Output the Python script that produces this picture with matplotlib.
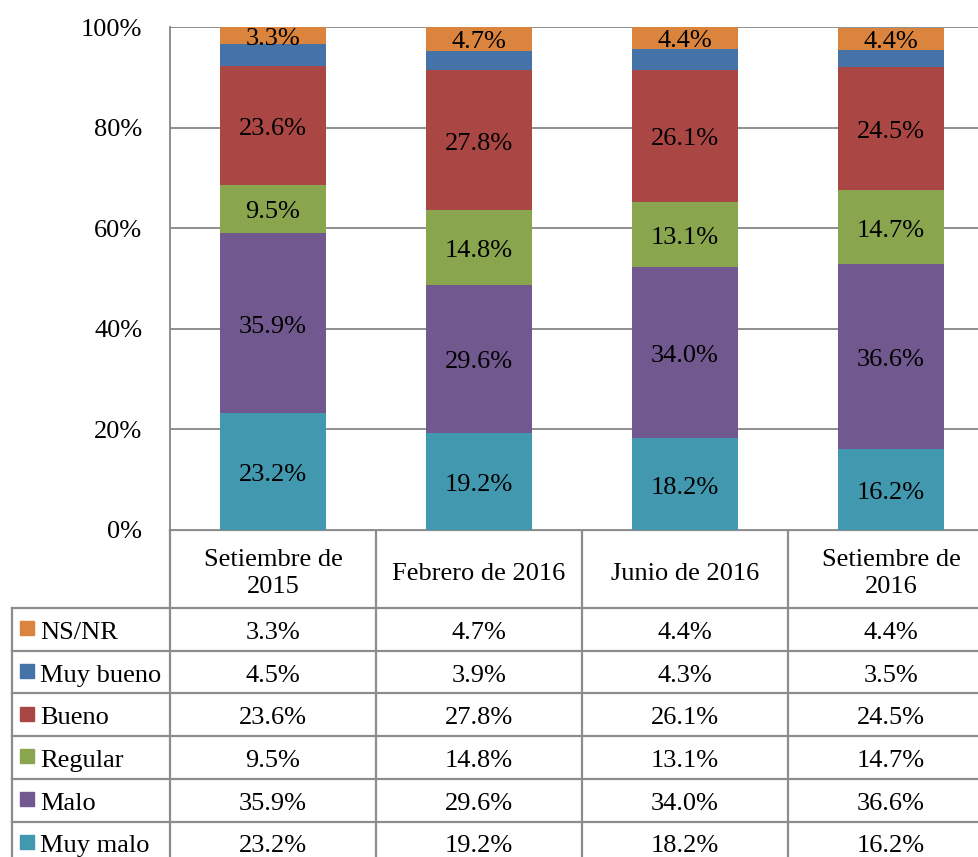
import matplotlib
matplotlib.use("Agg")
import matplotlib.pyplot as plt
import matplotlib.transforms as mtransforms
from matplotlib.patches import Rectangle
import numpy as np

plt.rcParams['font.family'] = ['Liberation Serif', 'DejaVu Serif']

categories = ["Setiembre de\n2015", "Febrero de 2016", "Junio de 2016", "Setiembre de\n2016"]
series_names = ["Muy malo", "Malo", "Regular", "Bueno", "Muy bueno", "NS/NR"]
muy_malo = [23.2, 19.2, 18.2, 16.2]
malo = [35.9, 29.6, 34.0, 36.6]
regular = [9.5, 14.8, 13.1, 14.7]
bueno = [23.6, 27.8, 26.1, 24.5]
muy_bueno = [4.5, 3.9, 4.3, 3.5]
ns_nr = [3.3, 4.7, 4.4, 4.4]
series_values = [muy_malo, malo, regular, bueno, muy_bueno, ns_nr]
colors = ["#4198AF", "#71588F", "#89A54E", "#AA4643", "#4572A7", "#DB843D"]
show_label = [True, True, True, True, False, True]
yticks = [0, 20, 40, 60, 80, 100]
ytick_labels = ["0%", "20%", "40%", "60%", "80%", "100%"]

FS = 19
W, H = 979, 857
fig = plt.figure(figsize=(W / 100, H / 100), dpi=100)

col_w = 206.0
ax_left, ax_right, ax_top, ax_bot = 170, 979, 27, 530
ax = fig.add_axes([ax_left / W, 1 - ax_bot / H, (ax_right - ax_left) / W, (ax_bot - ax_top) / H])
ax.set_xlim(-0.5, -0.5 + (ax_right - ax_left) / col_w)
ax.set_ylim(0, 100)

# shift texts slightly downward (in pixels at dpi 100)
down = mtransforms.ScaledTranslation(0, -3.5 / 100, fig.dpi_scale_trans)

x = np.arange(len(categories))
bottom = np.zeros(len(categories))
for vals, col, lab in zip(series_values, colors, show_label):
    v = np.array(vals)
    ax.bar(x, v, bottom=bottom, width=0.51, color=col, edgecolor='none', zorder=3)
    if lab:
        for xi, b, vi in zip(x, bottom, v):
            ax.text(xi, b + vi / 2, f"{vi:.1f}%", ha='center', va='center',
                    fontsize=FS, color='black', zorder=4, transform=ax.transData + down)
    bottom = bottom + v

ax.set_yticks(yticks)
ax.set_yticklabels(ytick_labels, fontsize=FS)
ax.tick_params(axis='y', length=0, pad=20)
ax.set_xticks([])
ax.grid(axis='y', color='#868686', linewidth=1.3, zorder=0)
for s in ['top', 'right', 'bottom']:
    ax.spines[s].set_visible(False)
ax.spines['left'].set_color('#868686')
ax.spines['left'].set_linewidth(1.3)

# Data table overlay
tab = fig.add_axes([0, 0, 1, 1], zorder=-1)
tab.set_xlim(0, W)
tab.set_ylim(H, 0)
tab.axis('off')
bt = mtransforms.blended_transform_factory(ax.transData, tab.transData)

line_c = '#8c8c8c'
lw = 1.6
header_top, header_bot = 530, 608
row_h = 42.7
n_rows = len(series_names)
legend_left = 12
row_lines = [header_bot + i * row_h for i in range(n_rows + 1)]

for k in range(len(categories) + 1):
    tab.plot([k - 0.5, k - 0.5], [header_top, H + 10], color=line_c, lw=lw,
             transform=bt, clip_on=False)
tab.plot([-0.5, 4], [header_top, header_top], color=line_c, lw=lw, transform=bt, clip_on=False)
for y in row_lines:
    tab.plot([legend_left, W + 20], [y, y], color=line_c, lw=lw, clip_on=False)
tab.plot([legend_left, legend_left], [header_bot, H + 10], color=line_c, lw=lw, clip_on=False)

for xi, cat in zip(x, categories):
    tab.text(xi, (header_top + header_bot) / 2 + 1, cat, ha='center', va='center',
             fontsize=FS, linespacing=1.3, transform=bt + down)

for r in range(n_rows):
    si = n_rows - 1 - r
    yc = header_bot + (r + 0.5) * row_h
    tab.add_patch(Rectangle((20, yc - 8), 14, 14, color=colors[si]))
    tab.text(40, yc, series_names[si], ha='left', va='center', fontsize=FS,
             transform=tab.transData + down)
    for xi, v in zip(x, series_values[si]):
        tab.text(xi, yc, f"{v:.1f}%", ha='center', va='center', fontsize=FS,
                 transform=bt + down)

fig.savefig("out.png", dpi=100)
